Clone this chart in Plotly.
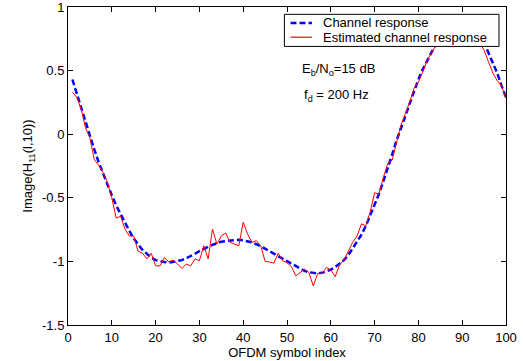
import plotly.graph_objects as go

symbol_index = list(range(1, 101))

channel_response = [
    0.43, 0.32, 0.21, 0.09, -0.02, -0.12, -0.22, -0.31, -0.40, -0.48,
    -0.56, -0.63, -0.70, -0.76, -0.82, -0.87, -0.91, -0.94, -0.97, -0.99,
    -1.00, -1.005, -1.01, -1.005, -1.00, -0.99, -0.975, -0.96, -0.94, -0.92,
    -0.90, -0.885, -0.87, -0.855, -0.845, -0.84, -0.835, -0.83, -0.83, -0.835,
    -0.84, -0.85, -0.865, -0.88, -0.90, -0.92, -0.94, -0.96, -0.98, -1.00,
    -1.02, -1.04, -1.06, -1.075, -1.085, -1.09, -1.095, -1.09, -1.08, -1.065,
    -1.045, -1.02, -0.99, -0.95, -0.90, -0.85, -0.79, -0.72, -0.64, -0.56,
    -0.47, -0.37, -0.27, -0.16, -0.05, 0.04, 0.14, 0.24, 0.34, 0.43,
    0.51, 0.58, 0.65, 0.71, 0.76, 0.81, 0.85, 0.88, 0.89, 0.90,
    0.89, 0.87, 0.83, 0.78, 0.72, 0.64, 0.56, 0.48, 0.38, 0.29,
]

estimated_response = [
    0.33, 0.29, 0.20, 0.05, -0.03, -0.20, -0.245, -0.30, -0.38, -0.50,
    -0.66, -0.645, -0.745, -0.80, -0.80, -0.92, -0.935, -0.98, -0.935, -1.035,
    -1.035, -0.97, -1.003, -0.99, -1.02, -1.056, -1.02, -1.035, -0.98, -0.995,
    -0.877, -0.98, -0.745, -0.864, -0.80, -0.777, -0.85, -0.864, -0.877, -0.692,
    -0.785, -0.85, -0.837, -0.877, -1.00, -1.005, -1.013, -0.935, -0.995, -1.01,
    -1.04, -1.114, -1.088, -1.061, -1.088, -1.193, -1.095, -1.095, -1.048, -1.066,
    -1.12, -1.027, -0.99, -0.92, -0.85, -0.80, -0.705, -0.72, -0.61, -0.46,
    -0.47, -0.34, -0.23, -0.205, -0.07, 0.07, 0.16, 0.25, 0.36, 0.41,
    0.49, 0.58, 0.64, 0.70, 0.76, 0.82, 0.87, 0.90, 0.92, 0.92,
    0.90, 0.86, 0.80, 0.72, 0.66, 0.57, 0.48, 0.42, 0.38, 0.28,
]

series_names = ["Channel response", "Estimated channel response"]
series_colors = ["#0000ff", "#ff0000"]
series_widths = [2.5, 1.2]
series_dashes = ["6px,3px", "solid"]

x_ticks = [0, 10, 20, 30, 40, 50, 60, 70, 80, 90, 100]
y_ticks = [-1.5, -1, -0.5, 0, 0.5, 1]
y_tick_labels = ["-1.5", "-1", "-0.5", "0", "0.5", "1"]

FONT = "Liberation Sans, Arial, Helvetica, sans-serif"
FS = 13

fig = go.Figure()
for i in range(2):
    fig.add_trace(go.Scatter(
        x=symbol_index,
        y=channel_response if i == 0 else estimated_response,
        mode="lines", name=series_names[i],
        line=dict(color=series_colors[i], width=series_widths[i] if i == 0 else 1,
                  dash=series_dashes[i]),
    ))

axis_common = dict(
    showgrid=False, zeroline=False, showline=True, linecolor="black",
    linewidth=1, mirror="ticks", ticks="inside", ticklen=5,
    tickcolor="black", tickwidth=1, automargin=False,
    ticklabeloverflow="allow",
    tickfont=dict(family=FONT, size=FS, color="black"),
)

fig.update_xaxes(range=[0, 100], tickvals=x_ticks,
                 title=dict(text="OFDM symbol index", standoff=0,
                            font=dict(family=FONT, size=FS, color="black")),
                 **axis_common)
fig.update_yaxes(range=[-1.5, 1], tickvals=y_ticks, ticktext=y_tick_labels,
                 title=dict(text="Image(H<sub>11</sub>(l,10))", standoff=6,
                            font=dict(family=FONT, size=FS, color="black")),
                 **axis_common)

# Text annotations inside the plot
fig.add_annotation(x=0.53, y=0.803, xref="paper", yref="paper",
                   xanchor="left", yanchor="middle", showarrow=False,
                   text="E<sub>b</sub>/N<sub>o</sub>=15 dB",
                   font=dict(family=FONT, size=FS, color="black"))
fig.add_annotation(x=0.535, y=0.721, xref="paper", yref="paper",
                   xanchor="left", yanchor="middle", showarrow=False,
                   text="f<sub>d</sub> = 200 Hz",
                   font=dict(family=FONT, size=FS, color="black"))

# Compact MATLAB-style legend box
leg_x0, leg_x1 = 0.494, 0.984
leg_y0, leg_y1 = 0.876, 0.977
row_y = [0.950, 0.905]
sample_x0, sample_x1 = 0.508, 0.557
text_x = 0.577

fig.add_shape(type="rect", xref="paper", yref="paper",
              x0=leg_x0, x1=leg_x1, y0=leg_y0, y1=leg_y1,
              fillcolor="white", line=dict(color="black", width=1),
              layer="above")
for i, name in enumerate(series_names):
    fig.add_shape(type="line", xref="paper", yref="paper",
                  x0=sample_x0, x1=sample_x1, y0=row_y[i], y1=row_y[i],
                  line=dict(color=series_colors[i], width=series_widths[i],
                            dash=series_dashes[i]),
                  layer="above")
    fig.add_annotation(x=text_x, y=row_y[i], xref="paper", yref="paper",
                       xanchor="left", yanchor="middle", showarrow=False,
                       text=name,
                       font=dict(family=FONT, size=FS, color="black"))

fig.update_layout(
    width=523, height=361,
    margin=dict(l=68, r=17, t=7, b=36),
    paper_bgcolor="white", plot_bgcolor="white",
    font=dict(family=FONT, size=FS, color="black"),
    showlegend=False,
)

fig.write_html("out.html", config={"displayModeBar": False},
               post_script="document.body.style.margin='0';document.body.style.padding='0';")
